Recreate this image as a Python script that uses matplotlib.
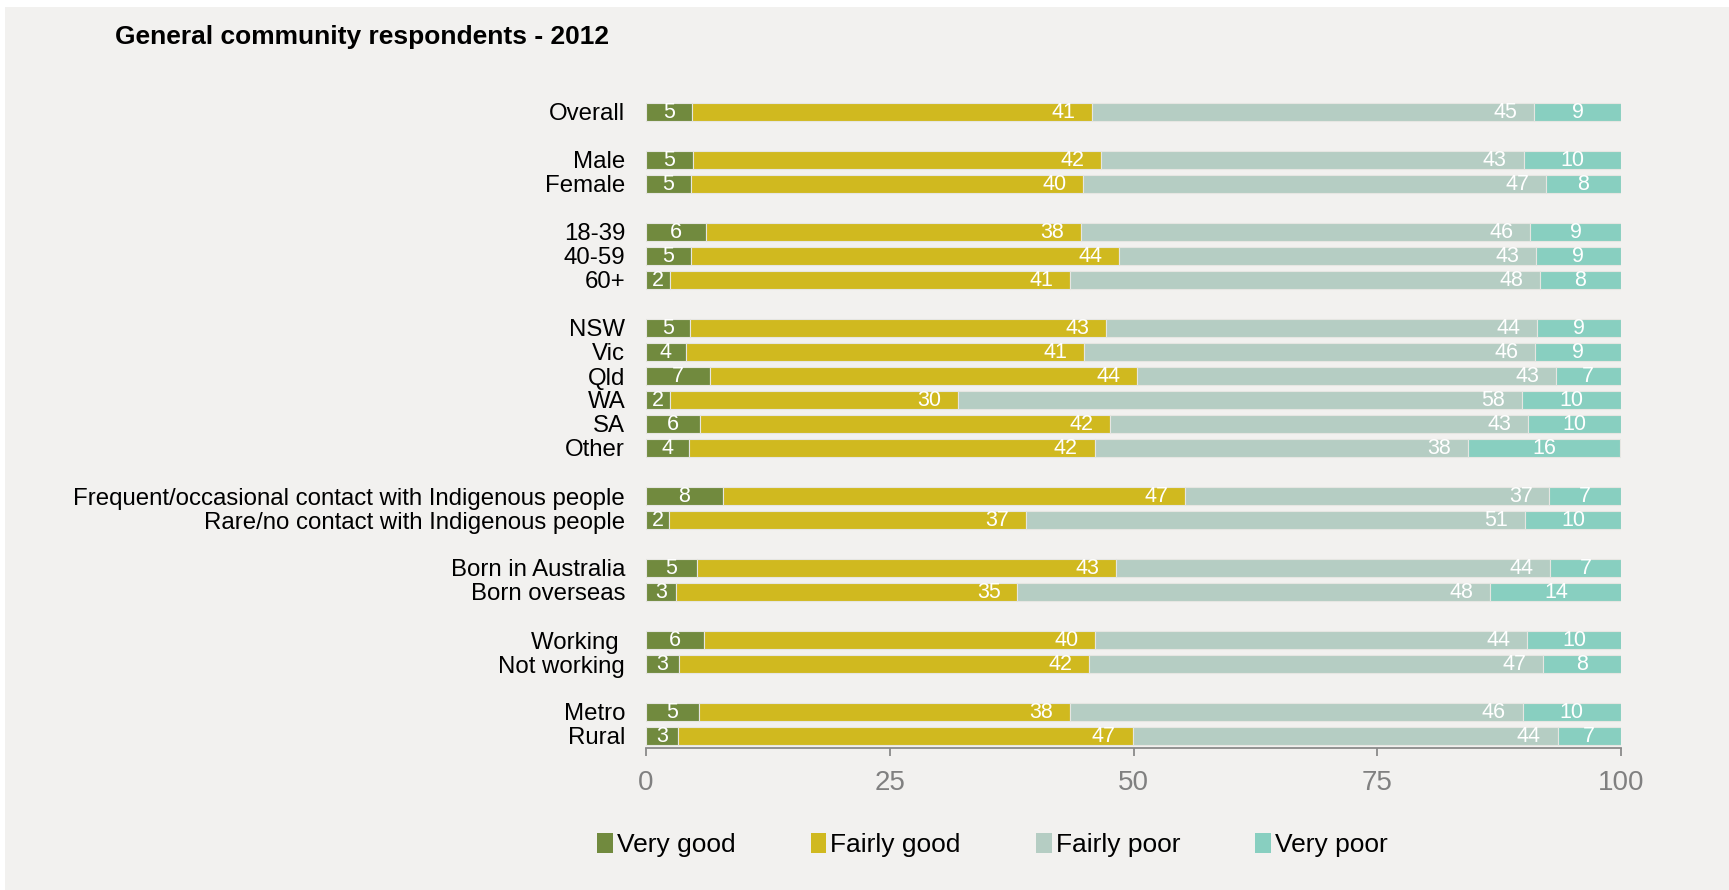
import matplotlib
matplotlib.use("Agg")
import matplotlib.pyplot as plt
from matplotlib.patches import Rectangle, Patch

plt.rcParams['font.family'] = ['Liberation Sans', 'DejaVu Sans']

title = "General community respondents - 2012"

categories = ["Overall", "",
              "Male", "Female", "",
              "18-39", "40-59", "60+", "",
              "NSW", "Vic", "Qld", "WA", "SA", "Other", "",
              "Frequent/occasional contact with Indigenous people",
              "Rare/no contact with Indigenous people", "",
              "Born in Australia", "Born overseas", "",
              "Working ", "Not working", "",
              "Metro", "Rural"]

very_good   = [4.7, None, 4.8, 4.6, None, 6.2, 4.6, 2.5, None, 4.5, 4.1, 6.6, 2.5, 5.5, 4.4, None,
               7.9, 2.4, None, 5.2, 3.1, None, 5.9, 3.35, None, 5.4, 3.3]
fairly_good = [41.0, None, 41.9, 40.2, None, 38.4, 43.9, 41.0, None, 42.7, 40.8, 43.8, 29.5, 42.1, 41.6, None,
               47.35, 36.6, None, 43.0, 35.0, None, 40.2, 42.1, None, 38.1, 46.6]
fairly_poor = [45.4, None, 43.3, 47.5, None, 46.1, 42.8, 48.2, None, 44.2, 46.3, 42.9, 57.8, 42.9, 38.3, None,
               37.4, 51.15, None, 44.5, 48.5, None, 44.3, 46.6, None, 46.4, 43.6]
very_poor   = [8.9, None, 10.05, 7.7, None, 9.3, 8.65, 8.3, None, 8.65, 8.75, 6.7, 10.15, 9.5, 15.6, None,
               7.3, 9.9, None, 7.3, 13.5, None, 9.7, 7.9, None, 10.05, 6.5]

lab_very_good   = [5, None, 5, 5, None, 6, 5, 2, None, 5, 4, 7, 2, 6, 4, None, 8, 2, None, 5, 3, None, 6, 3, None, 5, 3]
lab_fairly_good = [41, None, 42, 40, None, 38, 44, 41, None, 43, 41, 44, 30, 42, 42, None, 47, 37, None, 43, 35, None, 40, 42, None, 38, 47]
lab_fairly_poor = [45, None, 43, 47, None, 46, 43, 48, None, 44, 46, 43, 58, 43, 38, None, 37, 51, None, 44, 48, None, 44, 47, None, 46, 44]
lab_very_poor   = [9, None, 10, 8, None, 9, 9, 8, None, 9, 9, 7, 10, 10, 16, None, 7, 10, None, 7, 14, None, 10, 8, None, 10, 7]

series_names = ["Very good", "Fairly good", "Fairly poor", "Very poor"]
colors = ["#718a3e", "#d0b91f", "#b5cdc3", "#88cfc0"]
label_mode = ["center", "end", "end", "center"]

W, H = 1729, 890
fig = plt.figure(figsize=(W / 100, H / 100), dpi=100, facecolor="white")
bg = "#f2f1ef"
fig.patches.append(Rectangle((5 / W, 0), 1 - 5 / W, 1 - 7 / H, transform=fig.transFigure,
                             facecolor=bg, edgecolor="none", zorder=-10))

x0, x1 = 646, 1621
ytop, ybot = 100, 748
ax = fig.add_axes([x0 / W, 1 - ybot / H, (x1 - x0) / W, (ybot - ytop) / H])
ax.set_facecolor("none")

series = [very_good, fairly_good, fairly_poor, very_poor]
labels = [lab_very_good, lab_fairly_good, lab_fairly_poor, lab_very_poor]

rows = [i for i, c in enumerate(categories) if very_good[i] is not None]
left = {i: 0.0 for i in rows}
for s, (vals, labs, col, mode) in enumerate(zip(series, labels, colors, label_mode)):
    ys = rows
    ws = [vals[i] for i in rows]
    ls = [left[i] for i in rows]
    ax.barh(ys, ws, left=ls, height=0.73, color=col, edgecolor="#e6e6e2", linewidth=0.8)
    for i in rows:
        if mode == "center":
            ax.text(left[i] + vals[i] / 2, i, str(labs[i]), ha="center", va="center",
                    color="white", fontsize=15.5)
        else:
            ax.annotate(str(labs[i]), xy=(left[i] + vals[i], i), xytext=(-12, 0),
                        textcoords="offset points", ha="right", va="center",
                        color="white", fontsize=15.5)
        left[i] += vals[i]

ax.set_xlim(0, 100)
ax.set_ylim(len(categories) - 0.5, -0.5)
ax.set_xticks([0, 25, 50, 75, 100])
ax.set_xticklabels(["0", "25", "50", "75", "100"])
ax.tick_params(axis="x", colors="#8a8a8a", labelcolor="#808080", labelsize=20,
               length=6, width=1.3, pad=10)
ax.set_yticks(range(len(categories)))
ax.set_yticklabels(categories, fontsize=17.3, color="black")
ax.tick_params(axis="y", length=0, pad=15)
for sp in ["top", "right", "left"]:
    ax.spines[sp].set_visible(False)
ax.spines["bottom"].set_color("#8a8a8a")
ax.spines["bottom"].set_linewidth(1.3)

fig.text(115 / W, 1 - 37 / H, title, fontsize=19, fontweight="bold", ha="left", va="center")

handles = [Patch(facecolor=c, edgecolor="none") for c in colors]
leg = fig.legend(handles, series_names, loc="center", bbox_to_anchor=(0.574, 1 - 845 / H),
                 ncol=4, frameon=False, fontsize=19, handlelength=0.6, handleheight=0.8,
                 handletextpad=0.15, columnspacing=2.85)

fig.savefig("out.png", dpi=100, facecolor="white")
